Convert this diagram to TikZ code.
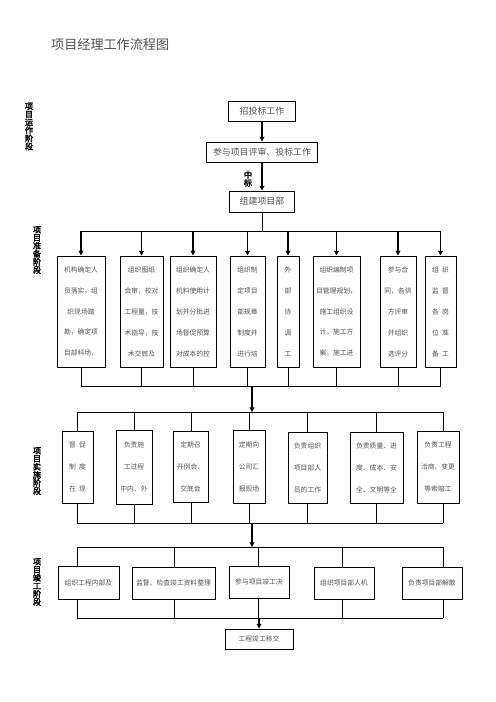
\documentclass[tikz,border=0pt]{standalone}
\usepackage{fontspec}
\setmainfont{Noto Sans CJK SC}
\newfontfamily\cjkbold[FakeBold=2.5]{Noto Sans CJK SC}
\usepackage{tikz}
\usetikzlibrary{positioning,arrows.meta}
\definecolor{inkgray}{HTML}{505050}
\tikzset{
  wh/.style 2 args={minimum width=#1*0.3mm,minimum height=#2*0.3mm},
  box/.style={draw,line width=0.8pt,align=center,inner sep=0pt,text=inkgray},
  topbox/.style={box,font=\fontsize{7.6}{9}\selectfont},
  tallbox/.style={box,font=\fontsize{5.8}{17.9}\selectfont},
  midbox/.style={box,font=\fontsize{5.8}{18.8}\selectfont},
  flatbox/.style={box,font=\fontsize{5.8}{7}\selectfont},
  phase/.style={align=center,inner sep=0pt,font=\cjkbold\fontsize{7}{6.9}\selectfont},
  line/.style={line width=0.6pt},
  arr/.style={-{Triangle[length=4pt,width=4pt]},line width=0.9pt},
}

\begin{document}
\begin{tikzpicture}[x=0.3mm,y=-0.3mm]
\useasboundingbox (0,0) rectangle (496,702);
\node[anchor=west,text=inkgray,font=\fontsize{11.2}{13}\selectfont] (title) at (47,45) {项目经理工作流程图};

% phase labels
\node[phase] (ph1) at (29,126.5) {项\\目\\运\\作\\阶\\段};
\node[phase] (ph2) at (37,250) {项\\目\\准\\备\\阶\\段};
\node[phase] (ph3) at (37,471) {项\\目\\实\\施\\阶\\段};
\node[phase] (ph4) at (37,582) {项\\目\\竣\\工\\阶\\段};

% top chain
\node[topbox,wh={67}{20}] (bid) at (262,111) {招投标工作};
\node[topbox,wh={111}{20}] (review) at (262,152) {参与项目评审、投标工作};
\node[topbox,wh={65}{21}] (dept) at (262,201.5) {组建项目部};
\draw[arr] (bid) -- (review);
\draw[arr] (review) -- node[phase,left=8pt,yshift=-2pt] (win) {中\\标} (dept);

% preparation
\node[tallbox,wh={48}{111}] (p1) at (81,311.5) {机构确定人\\员落实，组\\织现场踏\\勘，确定项\\目部科场，};
\node[tallbox,wh={43}{111}] (p2) at (141.5,311.5) {组织图纸\\会审，校对\\工程量，技\\术指导，技\\术交底及};
\node[tallbox,wh={46}{111}] (p3) at (193,311.5) {组织确定人\\机料使用计\\划并分批进\\场督促预算\\对成本的控};
\node[tallbox,wh={35}{111}] (p4) at (247.5,311.5) {组织制\\定项目\\部规章\\制度并\\进行培};
\node[tallbox,wh={22}{111}] (p5) at (288,311.5) {外\\部\\协\\调\\工};
\node[tallbox,wh={47}{111}] (p6) at (336.5,311.5) {组织编制项\\目管理规划，\\施工组织设\\计，施工方\\案，施工进};
\node[tallbox,wh={36}{111}] (p7) at (398,311.5) {参与合\\同，各供\\方评审\\并组织\\选评分};
\node[tallbox,wh={31}{111}] (p8) at (440.5,311.5) {组\ \ 织\\监\ \ 督\\各\ \ 岗\\位\ \ 准\\备\ \ 工};
\coordinate (prepbus) at (262,231);
\coordinate (prepjoin) at (252,386);
\draw[line] (dept) -- (prepbus);
\draw[line] (p1.north |- prepbus) -- (p8.north |- prepbus);
\draw[line] (p1.south |- prepjoin) -- (p8.south |- prepjoin);
\foreach \n in {p1,p2,p3,p4,p5,p6,p7,p8}{
  \draw[arr] (\n.north |- prepbus) -- (\n.north);
  \draw[line] (\n.south) -- (\n.south |- prepjoin);
}

% implementation
\coordinate (runbus) at (252,412);
\coordinate (runjoin) at (252,523);
\draw[arr] (prepjoin) -- (runbus);
\node[midbox,wh={31}{72}] (c1) at (77.5,467) {督\ \ 促\\制\ \ 度\\在\ \ 现};
\node[midbox,wh={36}{74}] (c2) at (134,467) {负责施\\工过程\\中内、外};
\node[midbox,wh={35}{71}] (c3) at (190.5,467) {定期召\\开例会、\\交底会};
\node[midbox,wh={32}{73}] (c4) at (249,466.5) {定期向\\公司汇\\报现场};
\node[midbox,wh={39}{71}] (c5) at (307.5,467.5) {负责组织\\项目部人\\员的工作};
\node[midbox,wh={53}{71}] (c6) at (376.5,467.5) {负责质量、进\\度、成本、安\\全、文明等全};
\node[midbox,wh={42}{72}] (c7) at (438,467) {负责工程\\洽商、变更\\等索赔工};
\foreach \n/\x in {c1/77,c2/134,c3/191,c4/249,c5/307,c6/376,c7/443}{
  \coordinate (\n t) at (\x,412);
  \coordinate (\n b) at (\x,523);
  \draw[line] (\n t) -- (\n t |- \n.north);
  \draw[line] (\n b |- \n.south) -- (\n b);
}
\draw[line] (c1t) -- (c7t);
\draw[line] (c1b) -- (c7b);

% completion
\coordinate (donebus) at (252,547);
\draw[arr] (runjoin) -- (donebus);
\node[flatbox,wh={61}{33}] (d1) at (88.5,582.5) {组织工程内部及};
\node[flatbox,wh={83}{32}] (d2) at (173.5,583) {监督、检查竣工资料整理};
\node[flatbox,wh={60}{32}] (d3) at (259,582) {参与项目竣工决};
\node[flatbox,wh={60}{32}] (d4) at (344,583) {组织项目部人机};
\node[flatbox,wh={60}{32}] (d5) at (432,583) {负责项目部解散};
\foreach \n/\x in {d1/77,d2/174,d3/258,d4/342,d5/443}{
  \coordinate (\n t) at (\x,547);
  \coordinate (\n b) at (\x,618);
  \draw[line] (\n t) -- (\n t |- \n.north);
  \draw[line] (\n b |- \n.south) -- (\n b);
}
\draw[line] (d1t) -- (d5t);
\draw[line] (d1b) -- (d5b);
\node[flatbox,wh={68}{20}] (handover) at (259,639) {工程竣工移交};
\coordinate (handin) at (259,618);
\draw[arr] (handin) -- (handover);
\end{tikzpicture}
\end{document}
